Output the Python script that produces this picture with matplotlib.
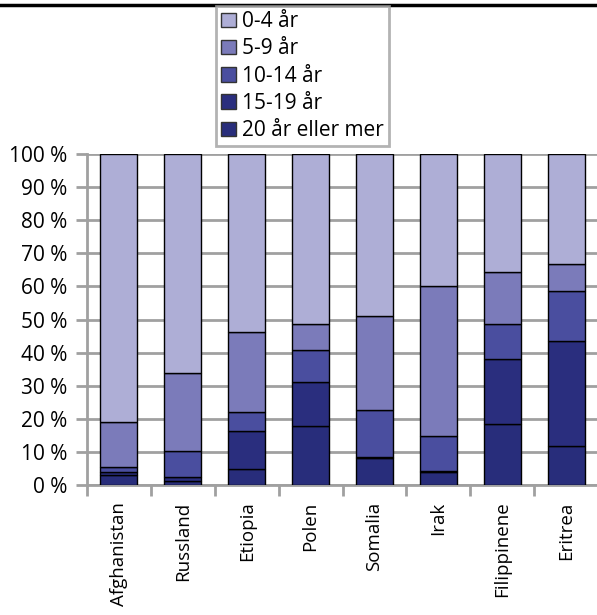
import matplotlib.pyplot as plt
import numpy as np
from matplotlib.lines import Line2D
from matplotlib.patches import Patch

plt.rcParams["font.family"] = ["Open Sans", "DejaVu Sans"]

countries = ["Afghanistan", "Russland", "Etiopia", "Polen", "Somalia",
             "Irak", "Filippinene", "Eritrea"]
groups = ["0-4 år", "5-9 år", "10-14 år", "15-19 år", "20 år eller mer"]

# share in percent, per age group (bottom series first when stacking)
age_20_plus = [3.0, 1.2, 4.9, 17.7, 8.3, 3.8, 18.3, 11.7]
age_15_19 = [0.8, 1.1, 11.3, 13.3, 0.3, 0.3, 19.7, 31.8]
age_10_14 = [1.7, 8.1, 5.8, 9.9, 14.0, 10.6, 10.5, 15.1]
age_5_9 = [13.6, 23.5, 24.1, 7.6, 28.6, 45.4, 15.9, 8.1]
age_0_4 = [80.9, 66.1, 53.9, 51.5, 48.8, 39.9, 35.6, 33.3]

colors = {
    "0-4 år": "#AEAED6",
    "5-9 år": "#7B7BBA",
    "10-14 år": "#4A4E9F",
    "15-19 år": "#2A2E7E",
    "20 år eller mer": "#282D7B",
}

series = [
    ("20 år eller mer", age_20_plus),
    ("15-19 år", age_15_19),
    ("10-14 år", age_10_14),
    ("5-9 år", age_5_9),
    ("0-4 år", age_0_4),
]

fig = plt.figure(figsize=(5.97, 6.15), dpi=100)
ax = fig.add_axes([87 / 597, 1 - 485 / 615, 511 / 597, 331 / 615])

x = np.arange(len(countries))
bottom = np.zeros(len(countries))
for name, vals in series:
    vals = np.array(vals)
    ax.bar(x, vals, bottom=bottom, width=0.58, color=colors[name],
           edgecolor="black", linewidth=1.0, zorder=3)
    bottom += vals

ax.set_xlim(-0.5, len(countries) - 0.5)
ax.set_ylim(0, 100)
ax.set_yticks(np.arange(0, 101, 10))
ax.set_yticklabels([f"{v} %" for v in range(0, 101, 10)], fontsize=15)
ax.yaxis.grid(True, color="#A0A0A0", linewidth=2.0, zorder=0)
ax.set_axisbelow(True)

# category labels at the centres, ticks between categories
ax.set_xticks(x)
ax.set_xticklabels(countries, rotation=90, fontsize=13.5)
ax.tick_params(axis="x", length=0, pad=12)
ax.set_xticks(np.arange(-0.5, len(countries)), minor=True)
ax.tick_params(axis="x", which="minor", length=8, width=2, color="#A0A0A0")
ax.tick_params(axis="y", length=8, width=2, color="#A0A0A0", pad=6)

for side in ["top", "right"]:
    ax.spines[side].set_visible(False)
for side in ["left", "bottom"]:
    ax.spines[side].set_color("#A0A0A0")
    ax.spines[side].set_linewidth(2.0)

handles = [Patch(facecolor=colors[g], edgecolor="#333333", linewidth=1.0)
           for g in groups]
leg = fig.legend(handles, groups, loc="upper left",
                 bbox_to_anchor=(216 / 597, 1 - 6 / 615), fontsize=15,
                 frameon=True, fancybox=False, edgecolor="#A0A0A0",
                 handlelength=0.7, handleheight=0.7, handletextpad=0.3,
                 labelspacing=0.3, borderpad=0.25, borderaxespad=0)
leg.get_frame().set_linewidth(2.0)

fig.add_artist(Line2D([0, 1], [1 - 5 / 615, 1 - 5 / 615], color="black",
                      linewidth=2.5, transform=fig.transFigure))

fig.savefig("out.png", dpi=100)
